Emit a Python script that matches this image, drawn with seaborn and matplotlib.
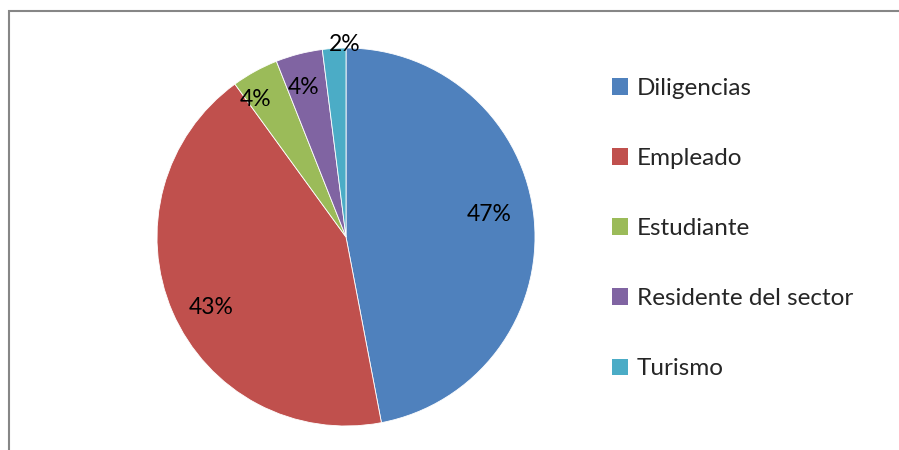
import numpy as np
import matplotlib
matplotlib.use('Agg')
import matplotlib.pyplot as plt
from matplotlib.patches import Patch, Rectangle
import seaborn as sns

categories = ['Diligencias', 'Empleado', 'Estudiante', 'Residente del sector', 'Turismo']
values = [47, 43, 4, 4, 2]
colors = ['#4F81BD', '#C0504D', '#9BBB59', '#8064A2', '#4BACC6']
# percent label placement: fraction of radius and angle nudge (deg)
label_dist = [0.77, 0.80, 0.88, 0.83, 1.03]
label_shift = [4.4, 3.6, 4.2, 1.2, -3.3]

sns.set_theme(style='white')
plt.rcParams['font.family'] = ['Lato', 'DejaVu Sans']

W, H = 899, 450
fig = plt.figure(figsize=(W / 100, H / 100), dpi=100)
fig.patch.set_facecolor('white')

# chart area border (only top and left show)
fig.add_artist(Rectangle((8.5 / W, -0.1), 1.2, (H - 11) / H + 0.1,
                         transform=fig.transFigure, fill=False,
                         edgecolor='#868686', linewidth=1.5))

cx, cy, r = 346, 237, 189
ax = fig.add_axes([(cx - r) / W, (H - cy - r) / H, 2 * r / W, 2 * r / H])
wedges, _ = ax.pie(values, colors=colors, startangle=90, counterclock=False,
                   radius=1, wedgeprops=dict(linewidth=0.6, edgecolor='white'))
ax.set_xlim(-1, 1)
ax.set_ylim(-1, 1)
ax.set_aspect('equal')
ax.axis('off')

total = sum(values)
for w, v, d, s in zip(wedges, values, label_dist, label_shift):
    ang = np.deg2rad((w.theta1 + w.theta2) / 2 + s)
    ax.text(d * np.cos(ang), d * np.sin(ang) - 0.01, f'{v / total:.0%}',
            ha='center', va='center', fontsize=16.5, color='black', clip_on=False)

handles = [Patch(facecolor=c, edgecolor='none') for c in colors]
fig.legend(handles, categories, loc='upper left', bbox_to_anchor=(590 / W, 1 - 56 / H),
           frameon=False, fontsize=17.5, labelspacing=2.02, handlelength=0.66,
           handleheight=0.66, handletextpad=0.37)

fig.savefig('out.png', dpi=100)
